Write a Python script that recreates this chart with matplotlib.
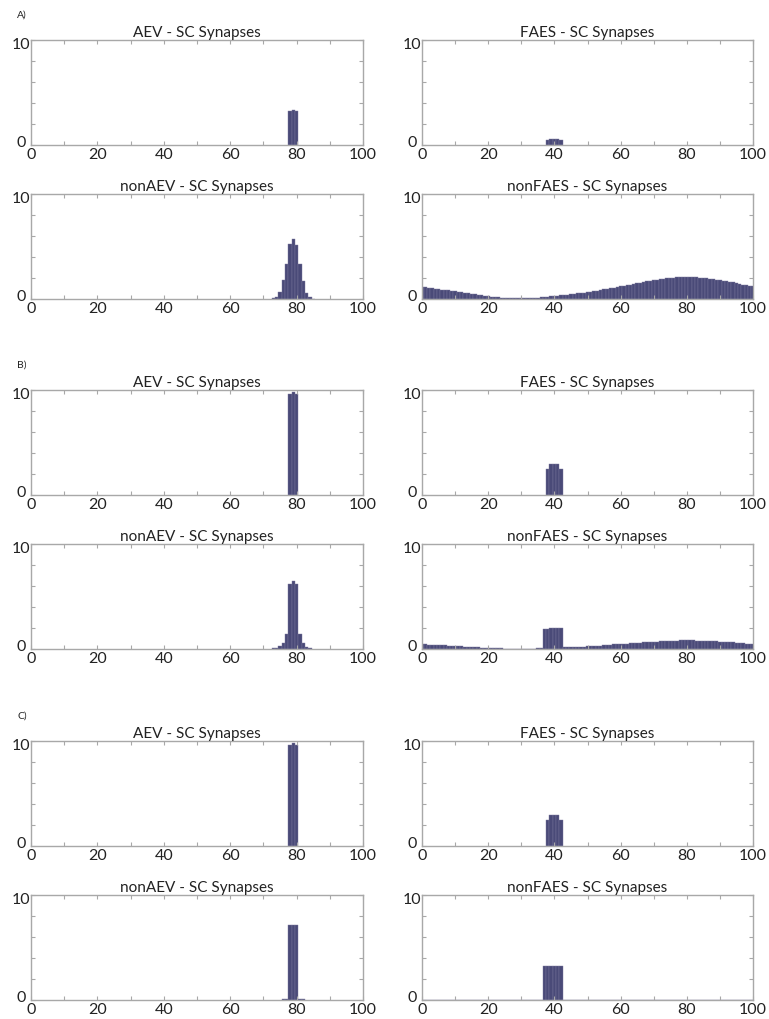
import numpy as np
import matplotlib
matplotlib.use("Agg")
import matplotlib.pyplot as plt

plt.rcParams['font.family'] = ['Lato', 'DejaVu Sans']

# bin centres 0..100
x_bins = np.arange(0, 101)

# ---- section A ----
a_aev_x = [78, 79, 80]
a_aev_y = [3.2, 3.35, 3.2]
a_faes_x = [38, 39, 40, 41, 42]
a_faes_y = [0.5, 0.6, 0.6, 0.6, 0.5]
a_nonaev_x = [73, 74, 75, 76, 77, 78, 79, 80, 81, 82, 83, 84, 85]
a_nonaev_y = [0.05, 0.2, 0.63, 1.8, 3.3, 5.2, 5.75, 5.1, 3.3, 1.7, 0.57, 0.16, 0.03]
a_nonfaes_y = [
    1.17, 1.13, 1.08, 1.04, 0.99, 0.95, 0.90, 0.86, 0.82, 0.77,
    0.73, 0.68, 0.63, 0.58, 0.53, 0.48, 0.43, 0.38, 0.34, 0.29,
    0.25, 0.22, 0.18, 0.15, 0.12, 0.10, 0.08, 0.07, 0.06, 0.06,
    0.06, 0.06, 0.07, 0.09, 0.11, 0.14, 0.17, 0.20, 0.23, 0.26,
    0.29, 0.32, 0.35, 0.38, 0.42, 0.45, 0.49, 0.53, 0.57, 0.60,
    0.63, 0.68, 0.73, 0.79, 0.85, 0.91, 0.97, 1.03, 1.09, 1.15,
    1.20, 1.26, 1.32, 1.38, 1.44, 1.50, 1.56, 1.62, 1.68, 1.73,
    1.78, 1.83, 1.88, 1.92, 1.96, 2.00, 2.03, 2.06, 2.08, 2.09,
    2.10, 2.09, 2.08, 2.06, 2.03, 2.00, 1.96, 1.92, 1.88, 1.84,
    1.80, 1.75, 1.70, 1.64, 1.58, 1.51, 1.44, 1.37, 1.30, 1.24,
    1.20]

# ---- section B ----
b_aev_x = [78, 79, 80]
b_aev_y = [9.6, 9.8, 9.6]
b_faes_x = [38, 39, 40, 41, 42]
b_faes_y = [2.5, 3.0, 3.0, 3.0, 2.5]
b_nonaev_x = [73, 74, 75, 76, 77, 78, 79, 80, 81, 82, 83, 84]
b_nonaev_y = [0.05, 0.07, 0.25, 0.6, 1.4, 6.2, 6.5, 6.2, 1.4, 0.6, 0.2, 0.05]
b_nonfaes_y = [
    0.46, 0.44, 0.42, 0.41, 0.39, 0.37, 0.35, 0.34, 0.32, 0.30,
    0.28, 0.27, 0.25, 0.23, 0.21, 0.19, 0.17, 0.15, 0.13, 0.11,
    0.10, 0.09, 0.07, 0.06, 0.05, 0.04, 0.03, 0.03, 0.02, 0.02,
    0.02, 0.02, 0.03, 0.04, 0.04, 0.05, 0.07, 1.93, 1.95, 1.96,
    1.97, 1.98, 2.00, 0.15, 0.16, 0.18, 0.19, 0.21, 0.22, 0.23,
    0.25, 0.27, 0.28, 0.31, 0.33, 0.35, 0.38, 0.40, 0.43, 0.45,
    0.47, 0.49, 0.51, 0.54, 0.56, 0.59, 0.61, 0.63, 0.66, 0.67,
    0.69, 0.71, 0.73, 0.75, 0.76, 0.78, 0.79, 0.80, 0.81, 0.82,
    0.82, 0.82, 0.81, 0.80, 0.79, 0.78, 0.76, 0.75, 0.73, 0.72,
    0.70, 0.68, 0.66, 0.64, 0.62, 0.59, 0.56, 0.53, 0.51, 0.48,
    0.47]

# ---- section C ----
c_aev_x = [78, 79, 80]
c_aev_y = [9.6, 9.8, 9.6]
c_faes_x = [38, 39, 40, 41, 42]
c_faes_y = [2.5, 3.0, 3.0, 3.0, 2.5]
c_nonaev_x = [76, 77, 78, 79, 80, 81, 82]
c_nonaev_y = [0.05, 0.05, 7.1, 7.15, 7.1, 0.05, 0.05]
c_nonfaes_y = [
    0.03, 0.03, 0.03, 0.03, 0.03, 0.03, 0.03, 0.03, 0.03, 0.03,
    0.02, 0.02, 0.02, 0.02, 0.02, 0.02, 0.02, 0.02, 0.02, 0.02,
    0.01, 0.01, 0.01, 0.01, 0.01, 0.01, 0.01, 0.01, 0.01, 0.01,
    0.01, 0.01, 0.01, 0.01, 0.01, 0.01, 0.01, 3.2, 3.2, 3.2,
    3.2, 3.2, 3.2, 0.01, 0.01, 0.01, 0.01, 0.01, 0.01, 0.01,
    0.01, 0.01, 0.01, 0.01, 0.01, 0.01, 0.01, 0.01, 0.01, 0.01,
    0.02, 0.02, 0.02, 0.02, 0.02, 0.02, 0.02, 0.02, 0.02, 0.02,
    0.03, 0.03, 0.03, 0.03, 0.03, 0.03, 0.03, 0.03, 0.03, 0.03,
    0.03, 0.03, 0.03, 0.03, 0.03, 0.03, 0.03, 0.03, 0.03, 0.03,
    0.03, 0.02, 0.02, 0.02, 0.02, 0.02, 0.02, 0.02, 0.02, 0.02,
    0.02]

section_labels = ['A)', 'B)', 'C)']
titles = [['AEV - SC Synapses', 'FAES - SC Synapses'],
          ['nonAEV - SC Synapses', 'nonFAES - SC Synapses']]
y_labels = ['0', '10']
panels = [
    [[(a_aev_x, a_aev_y), (a_faes_x, a_faes_y)],
     [(a_nonaev_x, a_nonaev_y), (x_bins, a_nonfaes_y)]],
    [[(b_aev_x, b_aev_y), (b_faes_x, b_faes_y)],
     [(b_nonaev_x, b_nonaev_y), (x_bins, b_nonfaes_y)]],
    [[(c_aev_x, c_aev_y), (c_faes_x, c_faes_y)],
     [(c_nonaev_x, c_nonaev_y), (x_bins, c_nonfaes_y)]],
]

W, H = 769, 1020
fig = plt.figure(figsize=(W / 100, H / 100), dpi=100)

bar_col = '#4a4a78'
edge_col = '#7a789c'
spine_col = '#a8a8a8'
txt_col = '#222222'

col_left = [31, 422]
col_width = [332, 331]
row_tops = [[41, 195], [391, 545], [742, 896]]
ax_h = 105

for s in range(3):
    for r in range(2):
        for c in range(2):
            top = row_tops[s][r]
            ax = fig.add_axes([col_left[c] / W, 1 - (top + ax_h) / H,
                               col_width[c] / W, ax_h / H])
            xs, ys = panels[s][r][c]
            ax.bar(xs, ys, width=1.0, color=bar_col, edgecolor=edge_col,
                   linewidth=0.3)
            ax.set_xlim(0, 100)
            ax.set_ylim(0, 10)
            ax.set_xticks(np.arange(0, 101, 20))
            ax.set_xticks(np.arange(0, 101, 10), minor=True)
            ax.set_yticks(np.arange(0, 11, 2))
            ax.set_yticklabels([])
            ax.tick_params(axis='both', which='both', direction='in',
                           top=True, right=True, color=spine_col,
                           labelcolor=txt_col, labelsize=11.5, length=3,
                           width=0.8)
            ax.tick_params(axis='x', pad=1.5)
            # MATLAB-like y labels: "10" just below the top, "0" lifted
            ax.annotate(y_labels[1], xy=(0, 1), xycoords='axes fraction',
                        xytext=(-1, -4), textcoords='offset pixels',
                        ha='right', va='center', fontsize=11.5, color=txt_col)
            ax.annotate(y_labels[0], xy=(0, 0), xycoords='axes fraction',
                        xytext=(-5, 3), textcoords='offset pixels',
                        ha='right', va='center', fontsize=11.5, color=txt_col)
            for sp in ax.spines.values():
                sp.set_color(spine_col)
                sp.set_linewidth(1.0)
            ax.set_title(titles[r][c], fontsize=11, color=txt_col, pad=3)
    fig.text(22 / W, 1 - (row_tops[s][0] - 26) / H, section_labels[s],
             fontsize=7.5, color=txt_col, ha='center', va='center')

fig.savefig('out.png', dpi=100)
